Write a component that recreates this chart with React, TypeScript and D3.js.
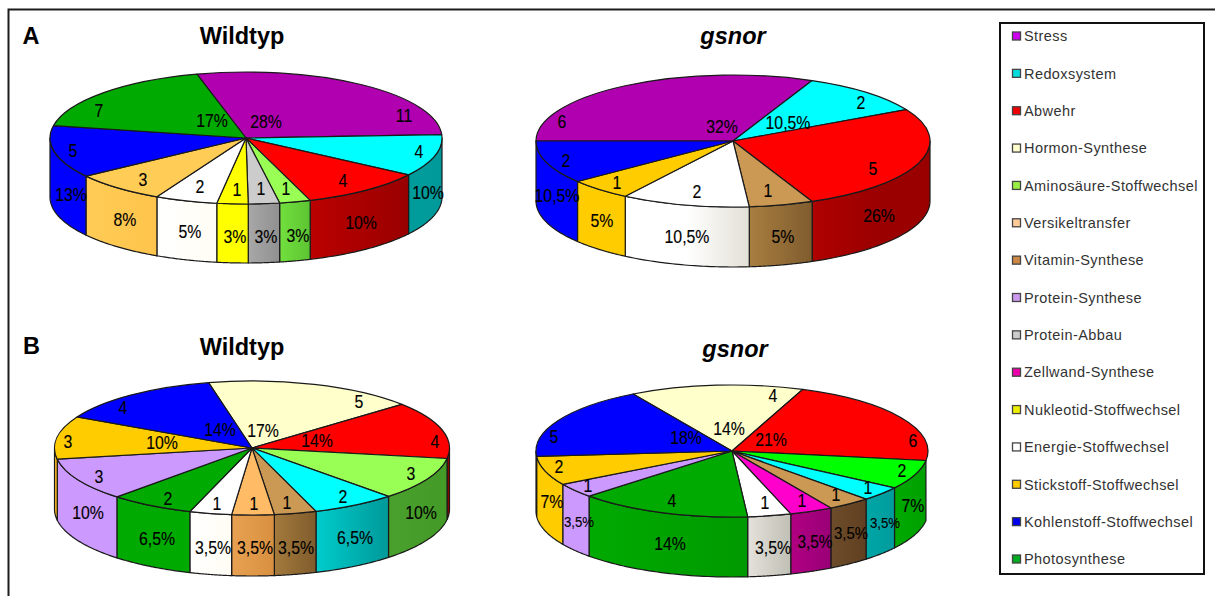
import React from "react";
import * as d3 from "d3";

const FONT = "'Liberation Sans', Arial, sans-serif";

// Legend rows, top to bottom
const legendCategories = [
  "Stress", "Redoxsystem", "Abwehr", "Hormon-Synthese", "Aminosäure-Stoffwechsel",
  "Versikeltransfer", "Vitamin-Synthese", "Protein-Synthese", "Protein-Abbau",
  "Zellwand-Synthese", "Nukleotid-Stoffwechsel", "Energie-Stoffwechsel",
  "Stickstoff-Stoffwechsel", "Kohlenstoff-Stoffwechsel", "Photosynthese",
];
const legendSwatches = [
  "#cc00ee", "#00dddd", "#ee0000", "#ffffcc", "#99ee44", "#ffcc99", "#cc8844", "#cc99ee",
  "#cccccc", "#ee00aa", "#eeee00", "#ffffff", "#ffcc00", "#0000ee", "#00aa22",
];

// Panel A, wild type
const aWtCategories = ["Stress", "Redoxsystem", "Abwehr", "Aminosäure-Stoffwechsel", "Protein-Abbau", "Nukleotid-Stoffwechsel", "Energie-Stoffwechsel", "Stickstoff-Stoffwechsel", "Kohlenstoff-Stoffwechsel", "Photosynthese"];
const aWtCounts = [11, 4, 4, 1, 1, 1, 2, 3, 5, 7];
const aWtPercents = ["28%", "10%", "10%", "3%", "3%", "3%", "5%", "8%", "13%", "17%"];

// Panel A, gsnor
const aGsCategories = ["Stress", "Redoxsystem", "Abwehr", "Vitamin-Synthese", "Energie-Stoffwechsel", "Stickstoff-Stoffwechsel", "Kohlenstoff-Stoffwechsel"];
const aGsCounts = [6, 2, 5, 1, 2, 1, 2];
const aGsPercents = ["32%", "10,5%", "26%", "5%", "10,5%", "5%", "10,5%"];

// Panel B, wild type
const bWtCategories = ["Hormon-Synthese", "Abwehr", "Aminosäure-Stoffwechsel", "Redoxsystem", "Vitamin-Synthese", "Versikeltransfer", "Energie-Stoffwechsel", "Photosynthese", "Protein-Synthese", "Stickstoff-Stoffwechsel", "Kohlenstoff-Stoffwechsel"];
const bWtCounts = [5, 4, 3, 2, 1, 1, 1, 2, 3, 3, 4];
const bWtPercents = ["17%", "14%", "10%", "6,5%", "3,5%", "3,5%", "3,5%", "6,5%", "10%", "10%", "14%"];

// Panel B, gsnor
const bGsCategories = ["Hormon-Synthese", "Abwehr", "Aminosäure-Stoffwechsel", "Redoxsystem", "Vitamin-Synthese", "Zellwand-Synthese", "Energie-Stoffwechsel", "Photosynthese", "Protein-Synthese", "Stickstoff-Stoffwechsel", "Kohlenstoff-Stoffwechsel"];
const bGsCounts = [4, 6, 2, 1, 1, 1, 1, 4, 1, 2, 5];
const bGsPercents = ["14%", "21%", "7%", "3,5%", "3,5%", "3,5%", "3,5%", "14%", "3,5%", "7%", "18%"];

// Top-face fill per category
const topColors: Record<string, string> = {
  "Stress": "#b000b0",
  "Redoxsystem": "#00ffff",
  "Abwehr": "#ff0000",
  "Hormon-Synthese": "#ffffcc",
  "Aminosäure-Stoffwechsel": "#99ff55",
  "Versikeltransfer": "#ffbb66",
  "Vitamin-Synthese": "#cc9955",
  "Protein-Synthese": "#cc99ff",
  "Protein-Abbau": "#cccccc",
  "Zellwand-Synthese": "#ff00cc",
  "Nukleotid-Stoffwechsel": "#ffff00",
  "Energie-Stoffwechsel": "#ffffff",
  "Stickstoff-Stoffwechsel": "#ffcc00",
  "Kohlenstoff-Stoffwechsel": "#0000ff",
  "Photosynthese": "#00aa00",
};

type Offset = [number, number];
type Spot = [number, number, number?];

interface PieSpec {
  cx: number; cy: number; rx: number; ry: number; depth: number; startDeg: number;
  categories: string[]; counts: number[]; percents: string[];
  topOverride?: Record<string, string>;
  walls: (string[] | null)[];
  countSpots: Offset[];
  percentSpots: Spot[];
}

const pies: PieSpec[] = [
  {
    cx: 246, cy: 138, rx: 196, ry: 66, depth: 59, startDeg: -14.5,
    categories: aWtCategories, counts: aWtCounts, percents: aWtPercents,
    topOverride: { "Stickstoff-Stoffwechsel": "#ffcc55" },
    walls: [null, ["#009c9c", "#009999"], ["#bb0000", "#990000"], ["#72e03e", "#5cc432"], ["#a8a8a8", "#909090"], ["#ffff00", "#ffff00"], ["#ffffff", "#fffdf4"], ["#ffcc55", "#ffc44c"], ["#0000ff", "#0000ff"], null],
    countSpots: [[158, -22], [173, 14], [97, 43], [40, 51], [15, 51], [-9, 52], [-46, 49], [-103, 42], [-173, 13], [-147, -27]],
    percentSpots: [[20, -16], [182, 55], [115, 85], [52, 98], [20, 99], [-11, 99], [-56, 94], [-121, 82], [-175, 57], [-34, -17]],
  },
  {
    cx: 733, cy: 141, rx: 197, ry: 66, depth: 60, startDeg: -90,
    categories: aGsCategories, counts: aGsCounts, percents: aGsPercents,
    walls: [null, null, ["#b00000", "#9c0000", "#990000"], ["#a87e40", "#805c2e"], ["#ffffff", "#ffffff", "#e2e0d6"], ["#ffcc00", "#ffcc00"], ["#0000ff", "#0000ff"]],
    countSpots: [[-171, -19], [128, -38], [140, 28], [35, 50], [-36, 51], [-116, 42], [-167, 20]],
    percentSpots: [[-11, -14], [55, -18], [146, 75], [50, 96], [-46, 96], [-131, 80], [-176, 55]],
  },
  {
    cx: 252, cy: 448, rx: 197.5, ry: 67, depth: 61, startDeg: -12.7,
    categories: bWtCategories, counts: bWtCounts, percents: bWtPercents,
    walls: [null, ["#990000", "#990000"], ["#4aa02c", "#449a26"], ["#00cccc", "#009999"], ["#a47a3c", "#805c2c"], ["#e8a052", "#d89040"], ["#ffffff", "#fffdf4"], ["#00aa00", "#00aa00"], ["#cc99ff", "#cc99ff"], ["#ffbb22", "#ffbb22"], null],
    countSpots: [[107, -46], [183, -6], [159, 26], [91, 49], [35, 55], [2, 56], [-35, 56], [-84, 51], [-153, 29], [-184, -6], [-129, -40]],
    percentSpots: [[11, -17], [65, -7], [169, 65], [103, 90], [44, 100], [3, 100], [-39, 100], [-95, 91], [-164, 65], [-90, -5], [-32, -18]],
  },
  {
    cx: 732, cy: 451, rx: 196, ry: 66, depth: 60, startDeg: -30.3,
    categories: bGsCategories, counts: bGsCounts, percents: bGsPercents,
    topOverride: { "Aminosäure-Stoffwechsel": "#00ff00" },
    walls: [null, null, ["#00aa00", "#00a000"], ["#00a6a6", "#009c9c"], ["#6c4c2a", "#604020"], ["#b00082", "#990077"], ["#e4e2da", "#c0bfb5"], ["#00aa00", "#009a00"], ["#cc99ff", "#cc99ff"], ["#ffcc00", "#ffcc00"], ["#0000ff", "#0000ff"]],
    countSpots: [[41, -55], [181, -10], [170, 20], [136, 37], [104, 44], [70, 50], [33, 52], [-60, 50], [-144, 35], [-173, 16], [-178, -14]],
    percentSpots: [[-3, -22], [39, -11], [181, 55], [153, 72, 15], [119, 82, 17], [83, 91, 17.5], [41, 97], [-62, 93], [-153, 71, 15], [-180, 51], [-46, -13]],
  },
];

// Sideways extent of a slice's wall: the part of its angle range on the near half of the ellipse
function frontIntervals(a0: number, a1: number): [number, number][] {
  const out: [number, number][] = [];
  for (const k of [-1, 0, 1]) {
    const lo = Math.max(a0, Math.PI / 2 + 2 * Math.PI * k);
    const hi = Math.min(a1, (3 * Math.PI) / 2 + 2 * Math.PI * k);
    if (hi > lo + 1e-4) out.push([lo, hi]);
  }
  return out;
}

// Slice labels use a tall, slightly condensed face
function SliceLabel({ x, y, size, text }: { x: number; y: number; size: number; text: string | number }) {
  return (
    <text
      transform={`translate(${x},${y}) scale(0.88,1)`}
      dy="0.36em"
      textAnchor="middle"
      fontFamily={FONT}
      fontSize={size}
      fill="#000"
      stroke="#000"
      strokeWidth={0.15}
    >
      {text}
    </text>
  );
}

function Pie({ spec, id }: { spec: PieSpec; id: string }) {
  const { cx, cy, rx, ry, depth } = spec;
  const start = (spec.startDeg * Math.PI) / 180;
  const slices = d3.pie<number>().sort(null).startAngle(start).endAngle(start + 2 * Math.PI)(spec.counts);
  const arc = d3.arc<d3.PieArcDatum<number>>().innerRadius(0).outerRadius(rx);
  const rim = d3.line<[number, number]>();
  const px = (t: number) => cx + rx * Math.sin(t);
  const py = (t: number) => cy - ry * Math.cos(t);

  const walls = slices.flatMap((s, i) => {
    const stops = spec.walls[i];
    if (!stops) return [];
    return frontIntervals(s.startAngle, s.endAngle).map(([lo, hi], j) => {
      const steps = d3.range(0, 41).map((n) => lo + ((hi - lo) * n) / 40);
      const top = steps.map((t) => [px(t), py(t)] as [number, number]);
      const bottom = steps.slice().reverse().map((t) => [px(t), py(t) + depth] as [number, number]);
      return {
        key: `${id}-w${i}-${j}`,
        d: rim([...top, ...bottom]) + "Z",
        stops,
        x1: px(hi),
        x2: px(lo),
      };
    });
  });

  return (
    <g>
      <defs>
        {walls.map((w) => (
          <linearGradient key={w.key} id={w.key} gradientUnits="userSpaceOnUse" x1={w.x1} x2={w.x2} y1={0} y2={0}>
            {w.stops.map((c, k) => (
              <stop key={k} offset={k / (w.stops.length - 1)} stopColor={c} />
            ))}
          </linearGradient>
        ))}
      </defs>
      {walls.map((w) => (
        <path key={w.key} d={w.d} fill={`url(#${w.key})`} stroke="#1a1a1a" strokeWidth={1.2} strokeLinejoin="round" />
      ))}
      <g transform={`translate(${cx},${cy}) scale(1,${ry / rx})`}>
        {slices.map((s, i) => (
          <path
            key={i}
            d={arc(s) as string}
            fill={spec.topOverride?.[spec.categories[i]] ?? topColors[spec.categories[i]]}
            stroke="#1a1a1a"
            strokeWidth={1.2}
            strokeLinejoin="round"
            vectorEffect="non-scaling-stroke"
          />
        ))}
      </g>
      {spec.counts.map((v, i) => (
        <SliceLabel key={i} x={cx + spec.countSpots[i][0]} y={cy + spec.countSpots[i][1]} size={18} text={v} />
      ))}
      {spec.percents.map((p, i) => (
        <SliceLabel key={i} x={cx + spec.percentSpots[i][0]} y={cy + spec.percentSpots[i][1]} size={spec.percentSpots[i][2] ?? 18} text={p} />
      ))}
    </g>
  );
}

const legendY = d3.scaleLinear().domain([0, legendCategories.length - 1]).range([36, 559]);

export default function App() {
  return (
    <svg width={1215} height={596} style={{ position: "absolute", left: 0, top: 0, background: "#fff" }}>
      <path d="M8.5,596V9.5H1215" fill="none" stroke="#1c1c1c" strokeWidth={2} />

      <text x={22.5} y={44} fontFamily={FONT} fontSize={23.5} fontWeight="bold">A</text>
      <text x={23} y={354} fontFamily={FONT} fontSize={23.5} fontWeight="bold">B</text>
      <text x={242} y={44} textAnchor="middle" fontFamily={FONT} fontSize={23.5} fontWeight="bold">Wildtyp</text>
      <text x={733} y={44} textAnchor="middle" fontFamily={FONT} fontSize={23.5} fontWeight="bold" fontStyle="italic">gsnor</text>
      <text x={242} y={355} textAnchor="middle" fontFamily={FONT} fontSize={23.5} fontWeight="bold">Wildtyp</text>
      <text x={735} y={357} textAnchor="middle" fontFamily={FONT} fontSize={23.5} fontWeight="bold" fontStyle="italic">gsnor</text>

      {pies.map((p, i) => (
        <Pie key={i} spec={p} id={`pie${i}`} />
      ))}

      <rect x={1000} y={23} width={204} height={551} fill="#fff" stroke="#111" strokeWidth={2} />
      {legendCategories.map((name, i) => (
        <g key={name}>
          <rect x={1012.5} y={legendY(i) - 4} width={8} height={8} fill={legendSwatches[i]} stroke="#444" strokeWidth={1.3} />
          <text x={1024} y={legendY(i)} dy="0.36em" fontFamily={FONT} fontSize={14.5} letterSpacing={0.42} fill="#333">
            {name}
          </text>
        </g>
      ))}
    </svg>
  );
}
